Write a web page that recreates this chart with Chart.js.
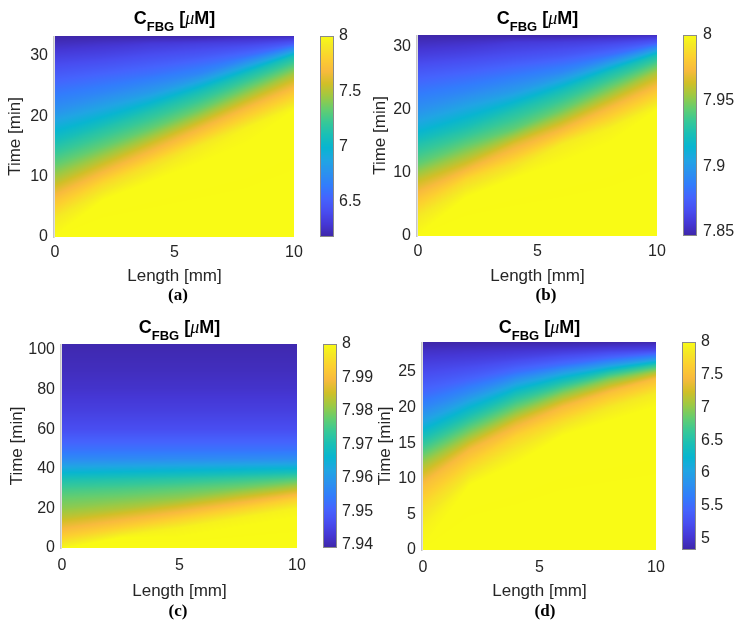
<!DOCTYPE html>
<html>
<head>
<meta charset="utf-8">
<script src="https://cdn.jsdelivr.net/npm/chart.js@4.4.1/dist/chart.umd.min.js"></script>
<style>
  body { margin: 0; background: #fff; }
  #fig { position: relative; width: 737px; height: 630px; }
  #fig canvas { position: absolute; }
</style>
</head>
<body>
<div id="fig">
  <canvas id="chartA" width="368" height="310" style="left:0px;top:0px"></canvas>
  <canvas id="chartB" width="369" height="310" style="left:368px;top:0px"></canvas>
  <canvas id="chartC" width="380" height="320" style="left:0px;top:310px"></canvas>
  <canvas id="chartD" width="369" height="320" style="left:368px;top:310px"></canvas>
</div>
<script>
// C_FBG maps: one column per length, values over the time list

// (a)
const lengthA = [0, 2, 4, 6, 8, 10];
const timeA = [0, 3, 6, 9, 12, 15, 18, 21, 24, 27, 30, 32, 33.3];
const concA = [
  [8.00, 7.92, 7.75, 7.53, 7.33, 7.15, 6.96, 6.76, 6.62, 6.48, 6.34, 6.24, 6.18],
  [8.00, 8.00, 8.00, 7.83, 7.57, 7.33, 7.14, 6.90, 6.69, 6.53, 6.37, 6.27, 6.18],
  [8.00, 8.00, 8.00, 8.00, 7.87, 7.61, 7.33, 7.12, 6.81, 6.59, 6.42, 6.31, 6.18],
  [8.00, 8.00, 8.00, 8.00, 8.00, 7.92, 7.66, 7.35, 7.10, 6.70, 6.47, 6.34, 6.18],
  [8.00, 8.00, 8.00, 8.00, 8.00, 8.00, 7.96, 7.72, 7.41, 7.10, 6.58, 6.37, 6.22],
  [8.00, 8.00, 8.00, 8.00, 8.00, 8.00, 8.00, 8.00, 7.76, 7.47, 7.09, 6.49, 6.23]
];
const timeTicksA = [0, 10, 20, 30];
const cbTicksA = [6.5, 7, 7.5, 8];
const cbRangeA = [6.18, 8];

// (b)
const lengthB = [0, 2, 4, 6, 8, 10];
const timeB = [0, 3, 6, 9, 11.5, 14.5, 17, 20, 23, 26, 28.7, 30.7, 31.9];
const concB = [
  [8.000, 7.993, 7.979, 7.961, 7.943, 7.928, 7.912, 7.896, 7.884, 7.872, 7.860, 7.852, 7.847],
  [8.000, 8.000, 8.000, 7.986, 7.964, 7.943, 7.927, 7.908, 7.890, 7.876, 7.863, 7.854, 7.847],
  [8.000, 8.000, 8.000, 8.000, 7.989, 7.968, 7.943, 7.926, 7.900, 7.882, 7.867, 7.858, 7.847],
  [8.000, 8.000, 8.000, 8.000, 8.000, 7.994, 7.972, 7.945, 7.924, 7.891, 7.871, 7.860, 7.847],
  [8.000, 8.000, 8.000, 8.000, 8.000, 8.000, 7.996, 7.976, 7.950, 7.924, 7.881, 7.863, 7.850],
  [8.000, 8.000, 8.000, 8.000, 8.000, 8.000, 8.000, 8.000, 7.980, 7.956, 7.924, 7.873, 7.852]
];
const timeTicksB = [0, 10, 20, 30];
const cbTicksB = [7.85, 7.9, 7.95, 8];
const cbRangeB = [7.847, 8];

// (c)
const lengthC = [0, 2.5, 5, 7.5, 10];
const timeC = [0, 5, 10, 15, 20, 25, 30, 35, 40, 45, 50, 60, 70, 80, 90, 103];
const concC = [
  [7.9994, 7.9940, 7.9890, 7.9844, 7.9806, 7.9780, 7.9746, 7.9701, 7.9635, 7.9570, 7.9527, 7.9469, 7.9442, 7.9421, 7.9408, 7.9396],
  [8.0000, 8.0000, 7.9937, 7.9882, 7.9828, 7.9791, 7.9755, 7.9709, 7.9641, 7.9571, 7.9527, 7.9469, 7.9442, 7.9421, 7.9408, 7.9396],
  [8.0000, 8.0000, 7.9985, 7.9933, 7.9870, 7.9809, 7.9769, 7.9719, 7.9648, 7.9573, 7.9527, 7.9469, 7.9442, 7.9421, 7.9408, 7.9396],
  [8.0000, 8.0000, 8.0000, 7.9985, 7.9931, 7.9860, 7.9791, 7.9734, 7.9656, 7.9574, 7.9527, 7.9469, 7.9442, 7.9421, 7.9408, 7.9396],
  [8.0000, 8.0000, 8.0000, 8.0000, 7.9985, 7.9930, 7.9841, 7.9758, 7.9665, 7.9577, 7.9527, 7.9469, 7.9442, 7.9421, 7.9408, 7.9396]
];
const timeTicksC = [0, 20, 40, 60, 80, 100];
const cbTicksC = [7.94, 7.95, 7.96, 7.97, 7.98, 7.99, 8];
const cbRangeC = [7.939, 8];

// (d)
const lengthD = [0, 2, 4, 6, 8, 10];
const timeD = [0, 3, 6, 9, 12, 14, 16, 18, 20, 22, 24, 25, 26, 27, 28, 28.5, 29.2];
const concD = [
  [8.00, 7.93, 7.76, 7.51, 7.08, 6.74, 6.41, 6.03, 5.73, 5.48, 5.29, 5.20, 5.12, 5.03, 4.95, 4.89, 4.82],
  [8.00, 8.00, 8.00, 8.00, 7.69, 7.45, 7.04, 6.64, 6.24, 5.79, 5.43, 5.30, 5.18, 5.07, 4.97, 4.91, 4.82],
  [8.00, 8.00, 8.00, 8.00, 8.00, 7.86, 7.67, 7.31, 6.85, 6.41, 5.82, 5.52, 5.32, 5.14, 5.00, 4.93, 4.82],
  [8.00, 8.00, 8.00, 8.00, 8.00, 8.00, 8.00, 7.77, 7.47, 6.96, 6.33, 5.93, 5.52, 5.27, 5.05, 4.95, 4.82],
  [8.00, 8.00, 8.00, 8.00, 8.00, 8.00, 8.00, 8.00, 7.85, 7.53, 6.93, 6.50, 5.93, 5.45, 5.13, 5.00, 4.82],
  [8.00, 8.00, 8.00, 8.00, 8.00, 8.00, 8.00, 8.00, 8.00, 7.86, 7.49, 7.07, 6.53, 5.77, 5.20, 5.04, 4.85]
];
const timeTicksD = [0, 5, 10, 15, 20, 25];
const cbTicksD = [5, 5.5, 6, 6.5, 7, 7.5, 8];
const cbRangeD = [4.82, 8];

const lengthTicks = [0, 5, 10];


// parula colour map (every 4th entry of the 64 colour table)
const parula = [
  [62, 38, 168], [69, 55, 213], [72, 77, 240], [69, 99, 253], [50, 124, 252],
  [43, 145, 239], [32, 165, 227], [8, 181, 208], [25, 191, 182], [55, 200, 151],
  [100, 205, 111], [157, 201, 67], [209, 191, 39], [248, 186, 61], [252, 207, 48],
  [245, 233, 36], [249, 251, 21]
];
const parulaPos = [0, 4, 8, 12, 16, 20, 24, 28, 32, 36, 40, 44, 48, 52, 56, 60, 63].map(k => k / 63);

const colourAt = (f) => {
  f = Math.min(1, Math.max(0, f));
  let k = 0;
  while (k < parulaPos.length - 2 && f > parulaPos[k + 1]) k++;
  const u = (f - parulaPos[k]) / (parulaPos[k + 1] - parulaPos[k]);
  const c0 = parula[k], c1 = parula[k + 1];
  return [0, 1, 2].map(i => Math.round(c0[i] + (c1[i] - c0[i]) * u));
};

/** tiempo en que una columna (decreciente) baja hasta el valor v */
const timeAtValue = (ts, col, v) => {
  if (v >= col[0]) return ts[0];
  for (let k = 0; k < col.length - 1; k++) {
    if (v >= col[k + 1]) {
      const d = col[k] - col[k + 1];
      return d > 0 ? ts[k] + (col[k] - v) / d * (ts[k + 1] - ts[k]) : ts[k];
    }
  }
  return ts[ts.length - 1];
};

const SANS = "'Liberation Sans', Arial, sans-serif";
const INK = '#262626';
const LEVELS = 400;

const panelPlugin = {
  id: 'panel',
  beforeDatasetsDraw(chart) {
    const o = chart.options.plugins.panel;
    const {ctx, chartArea: a, scales: {x, y, cb}} = chart;
    const [lo, hi] = o.cbRange;
    const xs = o.lengths, ts = o.times;

    // heat map: between two length columns the fronts move, they are not blended
    const w = Math.round(a.right - a.left), h = Math.round(a.bottom - a.top);
    const img = ctx.createImageData(w, h);
    const lv = [], tau = [];
    for (let k = 0; k <= LEVELS; k++) lv.push(lo + (hi - lo) * k / LEVELS);
    for (let px = 0; px < w; px++) {
      const L = x.getValueForPixel(a.left + px + 0.5);
      let i = 0; while (i < xs.length - 2 && L > xs[i + 1]) i++;
      const u = Math.min(1, Math.max(0, (L - xs[i]) / (xs[i + 1] - xs[i])));
      for (let k = 0; k <= LEVELS; k++) {
        tau[k] = (1 - u) * timeAtValue(ts, o.conc[i], lv[k]) + u * timeAtValue(ts, o.conc[i + 1], lv[k]);
      }
      for (let py = 0; py < h; py++) {
        const t = y.getValueForPixel(a.top + py + 0.5);
        let val;
        if (t >= tau[0]) val = lo;
        else if (t <= tau[LEVELS]) val = hi;
        else {
          let k0 = 0, k1 = LEVELS;
          while (k1 - k0 > 1) { const m = (k0 + k1) >> 1; if (tau[m] >= t) k0 = m; else k1 = m; }
          const d = tau[k0] - tau[k1];
          val = d > 0 ? lv[k0] + (tau[k0] - t) / d * (lv[k1] - lv[k0]) : lv[k0];
        }
        const c = colourAt((val - lo) / (hi - lo));
        const q = (py * w + px) * 4;
        img.data[q] = c[0]; img.data[q + 1] = c[1]; img.data[q + 2] = c[2]; img.data[q + 3] = 255;
      }
    }
    ctx.putImageData(img, Math.round(a.left), Math.round(a.top));

    // left axis line
    ctx.save();
    ctx.strokeStyle = '#c4c4c4';
    ctx.lineWidth = 1.5;
    ctx.beginPath();
    ctx.moveTo(a.left - 1.2, a.top);
    ctx.lineTo(a.left - 1.2, a.bottom + 1);
    ctx.stroke();

    // colorbar
    const bx = Math.round(cb.left + o.cbGap);
    for (let py = Math.round(cb.top); py < Math.round(cb.bottom); py++) {
      const c = colourAt((cb.getValueForPixel(py + 0.5) - lo) / (hi - lo));
      ctx.fillStyle = `rgb(${c[0]},${c[1]},${c[2]})`;
      ctx.fillRect(bx, py, o.cbWidth, 1);
    }
    ctx.strokeStyle = '#8a8a8a';
    ctx.lineWidth = 1;
    ctx.strokeRect(bx + 0.5, Math.round(cb.top) + 0.5, o.cbWidth - 1, Math.round(cb.bottom - cb.top) - 1);
    ctx.restore();
  },
  afterDraw(chart) {
    const o = chart.options.plugins.panel;
    const {ctx, chartArea: a} = chart;
    ctx.save();
    ctx.fillStyle = '#000';
    ctx.textBaseline = 'alphabetic';
    // title  C_FBG [μM]
    const parts = [
      {t: 'C', f: `bold 18px ${SANS}`, dy: 0},
      {t: 'FBG', f: `bold 13px ${SANS}`, dy: 7},
      {t: ' [', f: `bold 18px ${SANS}`, dy: 0},
      {t: 'μ', f: `italic 18px 'Liberation Serif', serif`, dy: 0},
      {t: 'M]', f: `bold 18px ${SANS}`, dy: 0}
    ];
    let total = 0;
    parts.forEach(p => { ctx.font = p.f; p.w = ctx.measureText(p.t).width; total += p.w; });
    let cx = (a.left + a.right) / 2 - total / 2;
    parts.forEach(p => { ctx.font = p.f; ctx.fillText(p.t, cx, o.titleY + p.dy); cx += p.w; });
    // panel tag
    ctx.font = `bold 17px 'Liberation Serif', 'DejaVu Serif', serif`;
    ctx.textAlign = 'center';
    ctx.textBaseline = 'middle';
    ctx.fillText(o.tag, o.tagX, o.tagY);
    ctx.restore();
  }
};

// Chart.js pads the chart area for tick labels; the layout here is fixed by hand
const fixBox = (s, size) => {
  if (s.isHorizontal()) s.height = size; else s.width = size;
  s.paddingTop = 0; s.paddingBottom = 0; s.paddingLeft = 0; s.paddingRight = 0;
};

const makePanel = (canvasId, p) => {
  const tickFont = {family: SANS, size: 16};
  return new Chart(document.getElementById(canvasId), {
    type: 'scatter',
    data: {datasets: []},
    options: {
      responsive: false,
      animation: false,
      events: [],
      layout: {padding: {top: p.padTop, left: 0, right: 0, bottom: 0}},
      plugins: {
        legend: {display: false},
        tooltip: {enabled: false},
        panel: {
          lengths: p.lengths, times: p.times, conc: p.conc, cbRange: p.cbRange,
          cbGap: 26, cbWidth: 14, titleY: p.titleY, tag: p.tag, tagX: p.tagX, tagY: p.tagY
        }
      },
      scales: {
        x: {
          type: 'linear', position: 'bottom',
          min: p.lengths[0], max: p.lengths[p.lengths.length - 1],
          grid: {display: false, drawTicks: false}, border: {display: false},
          afterBuildTicks: s => { s.ticks = lengthTicks.map(v => ({value: v})); },
          afterFit: s => fixBox(s, p.xH),
          ticks: {font: tickFont, color: INK, padding: p.xPad, maxRotation: 0, autoSkip: false},
          title: {display: true, text: 'Length [mm]', color: INK, font: {family: SANS, size: 17}, padding: {top: 0, bottom: p.xTitlePad}}
        },
        y: {
          type: 'linear', position: 'left',
          min: p.times[0], max: p.times[p.times.length - 1],
          grid: {display: false, drawTicks: false}, border: {display: false},
          afterBuildTicks: s => { s.ticks = p.timeTicks.map(v => ({value: v})); },
          afterFit: s => fixBox(s, p.yW),
          ticks: {font: tickFont, color: INK, padding: 7, autoSkip: false},
          title: {display: true, text: 'Time [min]', color: INK, font: {family: SANS, size: 17}, padding: {top: p.yTitlePad, bottom: 0}}
        },
        cb: {
          type: 'linear', position: 'right',
          min: p.cbRange[0], max: p.cbRange[1],
          grid: {display: false, drawTicks: false}, border: {display: false},
          afterBuildTicks: s => { s.ticks = p.cbTicks.map(v => ({value: v})); },
          afterFit: s => fixBox(s, p.cbW),
          ticks: {font: tickFont, color: INK, padding: p.cbPad, autoSkip: false, callback: v => String(v)}
        }
      }
    },
    plugins: [panelPlugin]
  });
};

makePanel('chartA', {
  lengths: lengthA, times: timeA, conc: concA, timeTicks: timeTicksA, cbTicks: cbTicksA, cbRange: cbRangeA,
  padTop: 36, yW: 55, cbW: 74, xH: 73, xPad: 6, xTitlePad: 23, yTitlePad: 5, cbPad: 45,
  titleY: 24, tag: '(a)', tagX: 178, tagY: 296
});
makePanel('chartB', {
  lengths: lengthB, times: timeB, conc: concB, timeTicks: timeTicksB, cbTicks: cbTicksB, cbRange: cbRangeB,
  padTop: 35, yW: 50, cbW: 80, xH: 74, xPad: 6, xTitlePad: 23, yTitlePad: 2, cbPad: 46,
  titleY: 24, tag: '(b)', tagX: 178, tagY: 296
});
makePanel('chartC', {
  lengths: lengthC, times: timeC, conc: concC, timeTicks: timeTicksC, cbTicks: cbTicksC, cbRange: cbRangeC,
  padTop: 34, yW: 62, cbW: 83, xH: 82, xPad: 8, xTitlePad: 28, yTitlePad: 7, cbPad: 45,
  titleY: 23, tag: '(c)', tagX: 178, tagY: 302
});
makePanel('chartD', {
  lengths: lengthD, times: timeD, conc: concD, timeTicks: timeTicksD, cbTicks: cbTicksD, cbRange: cbRangeD,
  padTop: 32, yW: 55, cbW: 81, xH: 80, xPad: 8, xTitlePad: 28, yTitlePad: 7, cbPad: 45,
  titleY: 23, tag: '(d)', tagX: 177, tagY: 302
});
</script>
</body>
</html>
